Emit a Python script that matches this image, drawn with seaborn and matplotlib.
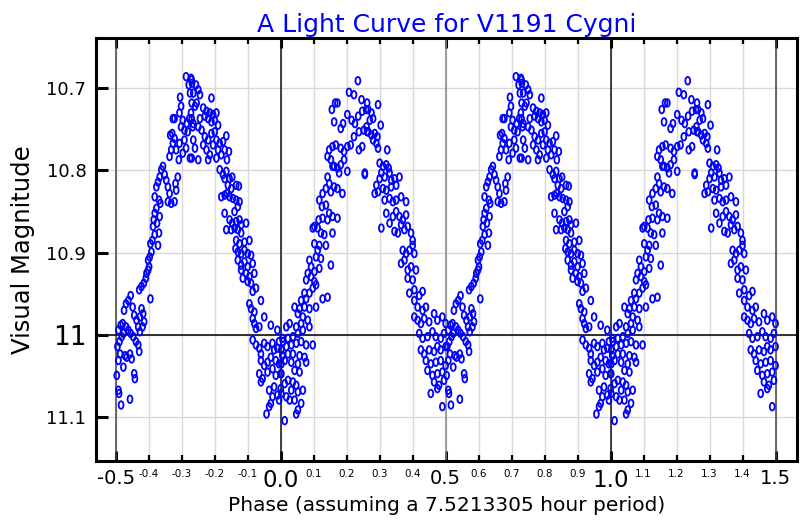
import pandas as pd
import matplotlib
matplotlib.use("Agg")
import matplotlib.pyplot as plt
from matplotlib.markers import MarkerStyle
from matplotlib.transforms import Affine2D
import seaborn as sns

# one cycle of the light curve (phase, visual magnitude)
rise_first = [
    (-0.497, 11.049), (-0.492, 11.067), (-0.490, 11.071), (-0.484, 11.085), (-0.457, 11.078),
    (-0.444, 11.047), (-0.442, 11.053), (-0.477, 11.039), (-0.492, 11.031), (-0.487, 11.023),
    (-0.472, 11.025), (-0.467, 11.027), (-0.457, 11.023), (-0.452, 11.029), (-0.495, 11.014),
    (-0.489, 11.008), (-0.482, 11.002), (-0.477, 10.998), (-0.492, 10.994), (-0.485, 10.988),
    (-0.479, 10.986), (-0.469, 10.990), (-0.462, 10.994), (-0.455, 10.998), (-0.447, 11.002),
    (-0.439, 11.008), (-0.432, 11.012), (-0.429, 11.020), (-0.475, 10.970), (-0.469, 10.962),
    (-0.462, 10.958), (-0.455, 10.952), (-0.449, 10.966), (-0.444, 10.976), (-0.437, 10.982),
    (-0.427, 10.978), (-0.422, 10.968), (-0.417, 10.974), (-0.414, 10.984), (-0.419, 10.990),
    (-0.427, 10.996), (-0.432, 10.990), (-0.429, 10.945), (-0.422, 10.941), (-0.415, 10.937),
    (-0.409, 10.931), (-0.407, 10.925), (-0.402, 10.921), (-0.399, 10.917), (-0.395, 10.956),
    (-0.402, 10.909), (-0.397, 10.905), (-0.392, 10.899), (-0.395, 10.889), (-0.389, 10.885),
    (-0.382, 10.878), (-0.387, 10.868), (-0.385, 10.860), (-0.382, 10.852), (-0.377, 10.846),
    (-0.372, 10.891), (-0.369, 10.876), (-0.375, 10.864), (-0.367, 10.856), (-0.365, 10.840),
    (-0.369, 10.836), (-0.382, 10.832), (-0.377, 10.820), (-0.372, 10.814), (-0.367, 10.808),
    (-0.362, 10.799), (-0.357, 10.795), (-0.352, 10.805), (-0.347, 10.812), (-0.342, 10.820),
    (-0.337, 10.828), (-0.342, 10.838), (-0.332, 10.840), (-0.322, 10.838), (-0.317, 10.824),
    (-0.312, 10.808), (-0.319, 10.816), (-0.337, 10.783), (-0.332, 10.775), (-0.327, 10.767),
    (-0.322, 10.761), (-0.329, 10.755), (-0.335, 10.757), (-0.317, 10.775), (-0.307, 10.767),
    (-0.309, 10.787), (-0.297, 10.779), (-0.292, 10.763), (-0.287, 10.773), (-0.275, 10.785),
    (-0.302, 10.747), (-0.297, 10.739), (-0.307, 10.730), (-0.302, 10.722), (-0.305, 10.711),
    (-0.327, 10.737), (-0.322, 10.737), (-0.292, 10.751), (-0.285, 10.743), (-0.277, 10.737),
    (-0.272, 10.730), (-0.275, 10.706), (-0.279, 10.696), (-0.287, 10.686), (-0.272, 10.688),
    (-0.269, 10.694), (-0.282, 10.753), (-0.267, 10.747), (-0.265, 10.763),
]

fall_first = [
    (-0.270, 10.690), (-0.257, 10.696), (-0.250, 10.702), (-0.265, 10.706), (-0.245, 10.708),
    (-0.210, 10.712), (-0.270, 10.718), (-0.260, 10.722), (-0.255, 10.718), (-0.235, 10.724),
    (-0.225, 10.728), (-0.215, 10.730), (-0.205, 10.732), (-0.195, 10.730), (-0.230, 10.734),
    (-0.220, 10.737), (-0.210, 10.741), (-0.200, 10.739), (-0.190, 10.745), (-0.245, 10.737),
    (-0.270, 10.737), (-0.265, 10.743), (-0.250, 10.747), (-0.240, 10.751), (-0.230, 10.759),
    (-0.220, 10.763), (-0.235, 10.769), (-0.260, 10.773), (-0.270, 10.785), (-0.250, 10.787),
    (-0.225, 10.775), (-0.215, 10.781), (-0.205, 10.769), (-0.195, 10.763), (-0.185, 10.767),
    (-0.175, 10.765), (-0.165, 10.758), (-0.200, 10.753), (-0.210, 10.755), (-0.190, 10.775),
    (-0.180, 10.781), (-0.170, 10.775), (-0.157, 10.777), (-0.163, 10.787), (-0.195, 10.785),
    (-0.220, 10.787), (-0.185, 10.799), (-0.175, 10.805), (-0.165, 10.801), (-0.170, 10.810),
    (-0.155, 10.810), (-0.147, 10.808), (-0.160, 10.818), (-0.150, 10.822), (-0.135, 10.818),
    (-0.127, 10.819), (-0.180, 10.832), (-0.170, 10.830), (-0.163, 10.828), (-0.155, 10.832),
    (-0.145, 10.834), (-0.135, 10.836), (-0.125, 10.838), (-0.130, 10.844), (-0.140, 10.850),
    (-0.155, 10.860), (-0.147, 10.864), (-0.135, 10.862), (-0.125, 10.860), (-0.120, 10.866),
    (-0.105, 10.864), (-0.170, 10.852), (-0.165, 10.872), (-0.150, 10.872), (-0.140, 10.870),
    (-0.130, 10.872), (-0.120, 10.876), (-0.135, 10.885), (-0.125, 10.889), (-0.110, 10.887),
    (-0.095, 10.885), (-0.137, 10.895), (-0.130, 10.899), (-0.120, 10.901), (-0.110, 10.897),
    (-0.100, 10.901), (-0.090, 10.903), (-0.130, 10.909), (-0.120, 10.915), (-0.110, 10.911),
    (-0.100, 10.917), (-0.085, 10.913), (-0.120, 10.921), (-0.105, 10.925), (-0.095, 10.929),
    (-0.080, 10.925), (-0.115, 10.931), (-0.100, 10.935), (-0.090, 10.937), (-0.075, 10.943),
    (-0.085, 10.947), (-0.060, 10.958), (-0.095, 10.962), (-0.090, 10.968), (-0.080, 10.972),
    (-0.050, 10.978), (-0.085, 10.980), (-0.080, 10.986), (-0.075, 10.992), (-0.065, 10.990),
    (-0.030, 10.988), (-0.010, 10.994), (-0.085, 11.006), (-0.075, 11.012), (-0.065, 11.016),
    (-0.060, 11.023), (-0.050, 11.010), (-0.040, 11.014), (-0.025, 11.010), (-0.020, 11.018),
    (-0.010, 11.016), (-0.005, 11.008), (0.005, 11.004), (-0.060, 11.031), (-0.050, 11.037),
    (-0.040, 11.033), (-0.030, 11.027), (-0.015, 11.031), (-0.005, 11.035), (0.005, 11.025),
    (-0.065, 11.047), (-0.055, 11.053), (-0.060, 11.057), (-0.040, 11.045), (-0.025, 11.041),
    (-0.015, 11.049), (0.000, 11.047), (-0.035, 11.067), (-0.025, 11.075), (-0.030, 11.083),
    (-0.010, 11.073), (-0.005, 11.079), (-0.020, 11.063), (0.000, 11.065), (-0.043, 11.096),
    (-0.035, 11.087),
]

rise_second = [
    (0.234, 10.691), (0.207, 10.705), (0.222, 10.708), (0.245, 10.714), (0.262, 10.718),
    (0.165, 10.718), (0.172, 10.718), (0.155, 10.726), (0.162, 10.741), (0.182, 10.749),
    (0.189, 10.743), (0.202, 10.732), (0.215, 10.739), (0.225, 10.743), (0.235, 10.734),
    (0.247, 10.728), (0.259, 10.726), (0.252, 10.751), (0.262, 10.753), (0.237, 10.753),
    (0.222, 10.759), (0.212, 10.769), (0.202, 10.771), (0.192, 10.777), (0.182, 10.773),
    (0.167, 10.769), (0.157, 10.771), (0.147, 10.775), (0.142, 10.783), (0.152, 10.787),
    (0.162, 10.795), (0.172, 10.797), (0.182, 10.793), (0.192, 10.787), (0.202, 10.801),
    (0.177, 10.803), (0.157, 10.795), (0.237, 10.775), (0.247, 10.771), (0.255, 10.805),
    (0.142, 10.808), (0.147, 10.816), (0.137, 10.822), (0.152, 10.826), (0.162, 10.820),
    (0.172, 10.822), (0.187, 10.828), (0.127, 10.828), (0.117, 10.836), (0.125, 10.844),
    (0.137, 10.842), (0.147, 10.852), (0.157, 10.856), (0.172, 10.858), (0.142, 10.860),
    (0.127, 10.858), (0.115, 10.860), (0.102, 10.868), (0.112, 10.870), (0.097, 10.870),
    (0.122, 10.876), (0.132, 10.878), (0.157, 10.876), (0.102, 10.889), (0.117, 10.891),
    (0.137, 10.891), (0.112, 10.897), (0.107, 10.905), (0.122, 10.907), (0.152, 10.915),
    (0.117, 10.919), (0.087, 10.909), (0.092, 10.917), (0.102, 10.923), (0.082, 10.925),
    (0.077, 10.933), (0.092, 10.929), (0.102, 10.935), (0.107, 10.939), (0.097, 10.943),
    (0.087, 10.949), (0.072, 10.949), (0.062, 10.958), (0.077, 10.956), (0.127, 10.956),
    (0.142, 10.954), (0.107, 10.966), (0.087, 10.968), (0.072, 10.966), (0.057, 10.968),
    (0.042, 10.966), (0.052, 10.974), (0.067, 10.978), (0.082, 10.982), (0.062, 10.986),
    (0.047, 10.990), (0.027, 10.986), (0.017, 10.990), (0.087, 10.990), (0.067, 10.994),
    (0.052, 10.998), (0.037, 11.002), (0.022, 11.004), (0.007, 11.008), (0.017, 11.014),
    (0.032, 11.012), (0.047, 11.010), (0.062, 11.008), (0.077, 11.012), (0.097, 11.012),
    (0.002, 11.018), (0.022, 11.023), (0.037, 11.023), (0.057, 11.025), (0.072, 11.027),
    (0.012, 11.031), (0.032, 11.033), (0.052, 11.035), (0.077, 11.033), (0.042, 11.043),
    (0.057, 11.045), (0.002, 11.047), (0.012, 11.059), (0.022, 11.055), (0.037, 11.057),
    (0.047, 11.061), (0.032, 11.067), (0.052, 11.069), (0.067, 11.067), (0.017, 11.075),
    (0.027, 11.079), (0.042, 11.079), (0.062, 11.083), (0.052, 11.091), (0.047, 11.096),
    (0.012, 11.104), (0.002, 11.071), (0.002, 11.035),
]

fall_second = [
    (0.295, 10.720), (0.265, 10.726), (0.275, 10.730), (0.270, 10.739), (0.280, 10.737),
    (0.303, 10.745), (0.260, 10.747), (0.265, 10.753), (0.275, 10.757), (0.285, 10.755),
    (0.293, 10.759), (0.280, 10.763), (0.290, 10.767), (0.295, 10.773), (0.323, 10.775),
    (0.255, 10.803), (0.300, 10.791), (0.310, 10.795), (0.320, 10.793), (0.327, 10.797),
    (0.305, 10.803), (0.315, 10.808), (0.330, 10.803), (0.300, 10.810), (0.335, 10.812),
    (0.345, 10.810), (0.360, 10.808), (0.290, 10.818), (0.285, 10.828), (0.295, 10.826),
    (0.310, 10.822), (0.320, 10.824), (0.335, 10.820), (0.350, 10.818), (0.315, 10.836),
    (0.330, 10.834), (0.340, 10.838), (0.350, 10.836), (0.365, 10.832), (0.380, 10.838),
    (0.320, 10.852), (0.330, 10.864), (0.305, 10.870), (0.340, 10.856), (0.350, 10.850),
    (0.360, 10.856), (0.370, 10.860), (0.380, 10.854), (0.345, 10.874), (0.355, 10.876),
    (0.365, 10.866), (0.375, 10.872), (0.385, 10.868), (0.395, 10.876), (0.400, 10.885),
    (0.370, 10.897), (0.380, 10.901), (0.390, 10.897), (0.400, 10.891), (0.405, 10.901),
    (0.365, 10.913), (0.375, 10.909), (0.385, 10.921), (0.395, 10.917), (0.410, 10.921),
    (0.385, 10.931), (0.400, 10.933), (0.390, 10.949), (0.405, 10.945), (0.420, 10.952),
    (0.430, 10.947), (0.405, 10.958), (0.415, 10.966), (0.430, 10.970), (0.440, 10.966),
    (0.405, 10.978), (0.415, 10.982), (0.425, 10.986), (0.435, 10.980), (0.450, 10.984),
    (0.465, 10.974), (0.475, 10.982), (0.490, 10.978), (0.500, 10.986), (0.420, 10.998),
    (0.430, 11.004), (0.445, 11.002), (0.460, 10.996), (0.470, 11.002), (0.485, 11.004),
    (0.495, 10.998), (0.425, 11.018), (0.435, 11.023), (0.450, 11.018), (0.465, 11.020),
    (0.475, 11.014), (0.485, 11.018), (0.500, 11.014), (0.440, 11.031), (0.455, 11.035),
    (0.470, 11.033), (0.485, 11.031), (0.500, 11.037), (0.445, 11.043), (0.460, 11.049),
    (0.475, 11.047), (0.490, 11.045), (0.465, 11.057), (0.480, 11.061), (0.495, 11.055),
    (0.455, 11.071), (0.475, 11.065), (0.490, 11.087),
]

major_phase = [-0.5, 0.0, 0.5, 1.0, 1.5]
major_phase_labels = ["-0.5", "0.0", "0.5", "1.0", "1.5"]
minor_phase = [-0.4, -0.3, -0.2, -0.1, 0.1, 0.2, 0.3, 0.4, 0.6, 0.7, 0.8, 0.9,
               1.1, 1.2, 1.3, 1.4]
minor_phase_labels = ["-0.4", "-0.3", "-0.2", "-0.1", "0.1", "0.2", "0.3", "0.4",
                      "0.6", "0.7", "0.8", "0.9", "1.1", "1.2", "1.3", "1.4"]
mag_ticks = [10.7, 10.8, 10.9, 11.0, 11.1]
mag_labels = ["10.7", "10.8", "10.9", "11", "11.1"]

# the curve is shown twice: phase and phase + 1
cycle = pd.DataFrame(rise_first + fall_first + rise_second + fall_second,
                     columns=["phase", "mag"])
df = pd.concat([cycle, cycle.assign(phase=cycle["phase"] + 1)], ignore_index=True)

sns.set_style("white")
plt.rcParams["font.family"] = ["DejaVu Sans"]
plt.rcParams["axes.unicode_minus"] = False
plt.rcParams["text.color"] = "black"
plt.rcParams["axes.labelcolor"] = "black"
plt.rcParams["xtick.color"] = "black"
plt.rcParams["ytick.color"] = "black"

fig = plt.figure(figsize=(8, 5.2), dpi=100)
ax = fig.add_axes([0.12, 0.1135, 0.876, 0.8135])

# grid every 0.1, darker reference lines at half/whole phases and at mag 11
for p in major_phase + minor_phase:
    ax.axvline(p, color="#d8d8d8", lw=1.0, zorder=0)
for m in mag_ticks:
    ax.axhline(m, color="#d8d8d8", lw=1.0, zorder=0)
for p in major_phase:
    c = "#111111" if p in (0.0, 1.0) else ("#888888" if p == 0.5 else "#444444")
    ax.axvline(p, color=c, lw=1.1, zorder=1)
ax.axhline(11.0, color="#111111", lw=1.2, zorder=1)

ellipse = MarkerStyle("o", transform=Affine2D().scale(0.64, 1.0))
sns.scatterplot(
    data=df,
    x="phase",
    y="mag",
    marker=ellipse,
    s=30,
    facecolor="none",
    edgecolor="#0000ff",
    linewidth=1.3,
    ax=ax,
    zorder=3,
)

ax.set_xlim(-0.56, 1.5645)
ax.set_ylim(11.153, 10.639)

ax.set_xticks(major_phase)
ax.set_xticklabels(major_phase_labels)
ax.set_xticks(minor_phase, minor=True)
ax.set_xticklabels(minor_phase_labels, minor=True)
ax.set_yticks(mag_ticks)
ax.set_yticklabels(mag_labels)

ax.tick_params(axis="x", which="major", direction="in", length=7.5, width=2.2,
               top=True, bottom=True, pad=6, labelsize=14, colors="black")
ax.tick_params(axis="x", which="minor", direction="in", length=4.5, width=1.6,
               top=True, bottom=True, pad=6, labelsize=7.5, colors="black")
ax.tick_params(axis="y", which="major", direction="in", length=8.5, width=2.2,
               left=True, right=False, pad=7, labelsize=13, colors="black")

for lab in ax.get_xticklabels():
    if lab.get_text() in ("0.0", "1.0"):
        lab.set_fontsize(16.5)
for lab in ax.get_yticklabels():
    if lab.get_text() == "11":
        lab.set_fontsize(19)

for sp in ax.spines.values():
    sp.set_linewidth(2.2)
    sp.set_color("black")
    sp.set_visible(True)

ax.set_title("A Light Curve for V1191 Cygni", color="#0000ff", fontsize=18, pad=4)
ax.set_xlabel("Phase (assuming a 7.5213305 hour period)", fontsize=14.5,
              labelpad=3, color="black")
ax.set_ylabel("Visual Magnitude", fontsize=17.5, labelpad=8, color="black")

fig.savefig("out.png", dpi=100)
